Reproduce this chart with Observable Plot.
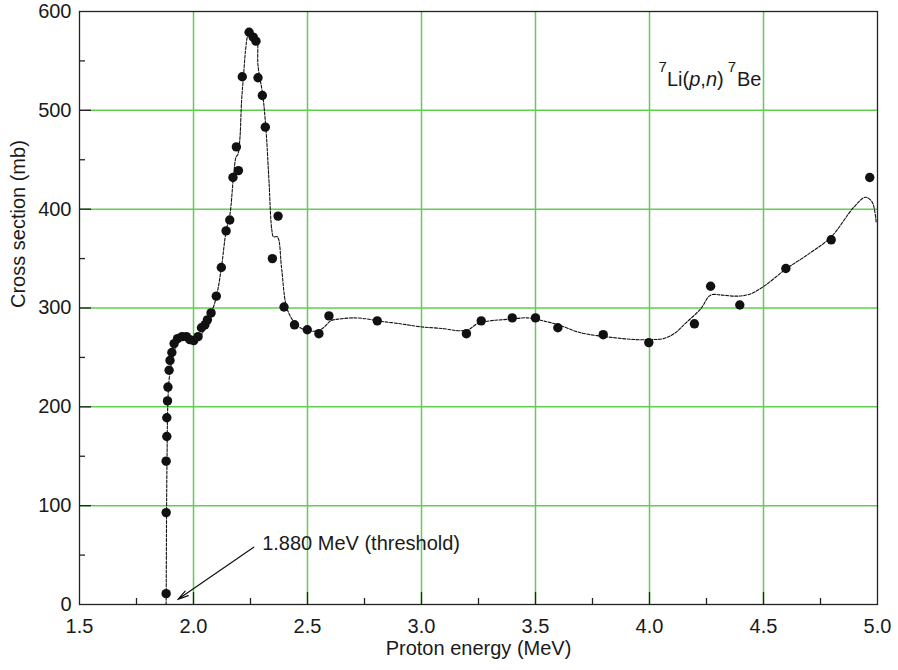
<!DOCTYPE html>
<html><head><meta charset="utf-8">
<script src="https://cdn.jsdelivr.net/npm/d3@7"></script>
<script src="https://cdn.jsdelivr.net/npm/@observablehq/plot@0.6"></script>
<style>body{margin:0;background:#fff;} svg{display:block}</style>
</head><body><div id="chart"></div>
<script>
// Measured points: proton energy (MeV) and cross section (mb)
const energy = [1.880,1.880,1.880,1.883,1.883,1.886,1.888,1.893,1.897,1.905,1.915,1.930,1.950,1.969,1.984,2.001,2.020,2.035,2.050,2.061,2.077,2.100,2.122,2.143,2.159,2.173,2.188,2.197,2.214,2.244,2.262,2.274,2.283,2.302,2.315,2.346,2.371,2.397,2.443,2.499,2.550,2.594,2.806,3.197,3.262,3.398,3.500,3.598,3.797,3.997,4.197,4.268,4.396,4.598,4.797,4.966];
const sigma = [11,93,145,170,189,206,220,237,247,255,264,269,271,271,268,267,271,280,283,288,295,312,341,378,389,432,463,439,534,579,574,570,533,515,483,350,393,301,283,278,274,292,287,274,287,290,290,280,273,265,284,322,303,340,369,432];
// Fitted curve
const fitEnergy = [1.880,1.881,1.882,1.884,1.887,1.892,1.900,1.910,1.922,1.936,1.957,1.980,2.000,2.015,2.032,2.046,2.063,2.083,2.101,2.123,2.143,2.160,2.175,2.187,2.194,2.203,2.211,2.219,2.228,2.237,2.247,2.261,2.277,2.283,2.304,2.318,2.331,2.343,2.351,2.368,2.386,2.405,2.426,2.456,2.500,2.543,2.570,2.602,2.645,2.700,2.760,2.808,2.908,2.996,3.100,3.160,3.205,3.244,3.300,3.346,3.400,3.464,3.551,3.600,3.697,3.843,3.940,3.997,4.060,4.108,4.160,4.224,4.268,4.320,4.384,4.440,4.502,4.596,4.700,4.797,4.896,4.947,4.977,4.994];
const fitSigma = [0,50,100,150,200,225,240,251,261,267,272,271,267,268,271,279,287,298,312,342,378,395,432,453,455,470,510,534,560,575,580,576,573,545,515,480,429,380,372,372,341,304,291,282,277,277,280,287,289,290,289,287,284,281,279,277,278,284,287,288,289,290,286,283,275,270,268,268,269,274,285,299,313,313,312,314,322,339,355,372,402,412,407,387];

const xTickValues = [1.5,2.0,2.5,3.0,3.5,4.0,4.5,5.0];
const yTickValues = [0,100,200,300,400,500,600];
const xGrid = [2.0,2.5,3.0,3.5,4.0,4.5];
const yGrid = [100,200,300,400,500];
const xMinor = [1.75,2.25,2.75,3.25,3.75,4.25,4.75];
const yMinor = [50,150,250,350,450,550];

const xLabel = "Proton energy (MeV)";
const yLabel = "Cross section (mb)";
const thresholdLabel = "1.880 MeV (threshold)";
const thresholdArrow = [{x1: 2.264, y1: 58, x2: 1.931, y2: 5}];
const thresholdTextPos = [{x: 2.301, y: 62}];
const reactionPos = [{x: 4.04, y: 531}];
const reactionParts = [
  {t: "7", sup: true}, {t: "Li("}, {t: "p", it: true}, {t: ","}, {t: "n", it: true}, {t: ")"},
  {t: "7", sup: true, dx: 4}, {t: "Be", dx: 1}
];

const W = 898, H = 670, mL = 79, mR = 21, mT = 11, mB = 66;
const pxPerX = (W - mL - mR) / 3.5;
const pxPerY = (H - mT - mB) / 600;
const points = energy.map((e, i) => ({e, s: sigma[i]}));
const fit = fitEnergy.map((e, i) => ({e, s: fitSigma[i]}));
const green = "#5fcf4f";
const ink = "#1a1a1a";

const plot = Plot.plot({
  width: W, height: H, marginLeft: mL, marginRight: mR, marginTop: mT, marginBottom: mB,
  x: {domain: [1.5, 5.0]},
  y: {domain: [0, 600]},
  style: {fontFamily: "'Liberation Sans', Arial, Helvetica, sans-serif", fontSize: "20px", color: ink, background: "#fff"},
  marks: [
    Plot.ruleX(xGrid, {x: d => d, stroke: green, strokeWidth: 1.5}),
    Plot.ruleY(yGrid, {y: d => d, stroke: green, strokeWidth: 1.5}),
    Plot.ruleX(xGrid, {x: d => d, y1: 0, y2: 12 / pxPerY, stroke: "#222", strokeWidth: 1.3}),
    Plot.ruleX(xMinor, {x: d => d, y1: 0, y2: 6 / pxPerY, stroke: "#222", strokeWidth: 1.3}),
    Plot.ruleY(yGrid, {y: d => d, x1: 1.5, x2: 1.5 + 12 / pxPerX, stroke: "#222", strokeWidth: 1.3}),
    Plot.ruleY(yMinor, {y: d => d, x1: 1.5, x2: 1.5 + 6 / pxPerX, stroke: "#222", strokeWidth: 1.3}),
    Plot.frame({stroke: "#222", strokeWidth: 1.3}),
    Plot.axisX(xTickValues, {tickSize: 0, tickPadding: 14, tickFormat: d3.format(".1f"), fontSize: 20, label: null}),
    Plot.axisY(yTickValues, {tickSize: 0, tickPadding: 8, fontSize: 20, label: null}),
    Plot.text([xLabel], {text: d => d, frameAnchor: "bottom", dy: 50, fontSize: 20, fill: ink}),
    Plot.text([yLabel], {text: d => d, frameAnchor: "left", rotate: -90, dx: -61, fontSize: 20, fill: ink}),
    Plot.line(fit, {x: "e", y: "s", curve: "catmull-rom", stroke: "#111", strokeWidth: 1.1, strokeDasharray: "3,1.5"}),
    Plot.dot(points, {x: "e", y: "s", r: 4.7, fill: "#111", stroke: "none"}),
    Plot.arrow(thresholdArrow, {x1: "x1", y1: "y1", x2: "x2", y2: "y2", stroke: "#111", strokeWidth: 1.2, headLength: 14, headAngle: 28}),
    Plot.text(thresholdTextPos, {x: "x", y: "y", text: () => thresholdLabel, textAnchor: "start", fontSize: 20, fill: ink}),
    Plot.text(reactionPos, {x: "x", y: "y", text: () => "REACTION", textAnchor: "start", fontSize: 20, fill: ink})
  ]
});

d3.select(plot).selectAll("text").filter(function () { return this.textContent === "REACTION"; }).each(function () {
  const t = d3.select(this);
  t.text("");
  let raised = false;
  for (const p of reactionParts) {
    const s = t.append("tspan").text(p.t);
    if (p.sup) {
      s.attr("font-size", "15px");
      if (!raised) { s.attr("dy", "-14px"); raised = true; }
    } else if (raised) {
      s.attr("dy", "14px"); raised = false;
    }
    if (p.it) s.attr("font-style", "italic");
    if (p.dx) s.attr("dx", p.dx + "px");
  }
});

document.getElementById("chart").appendChild(plot);
</script>
</body></html>
